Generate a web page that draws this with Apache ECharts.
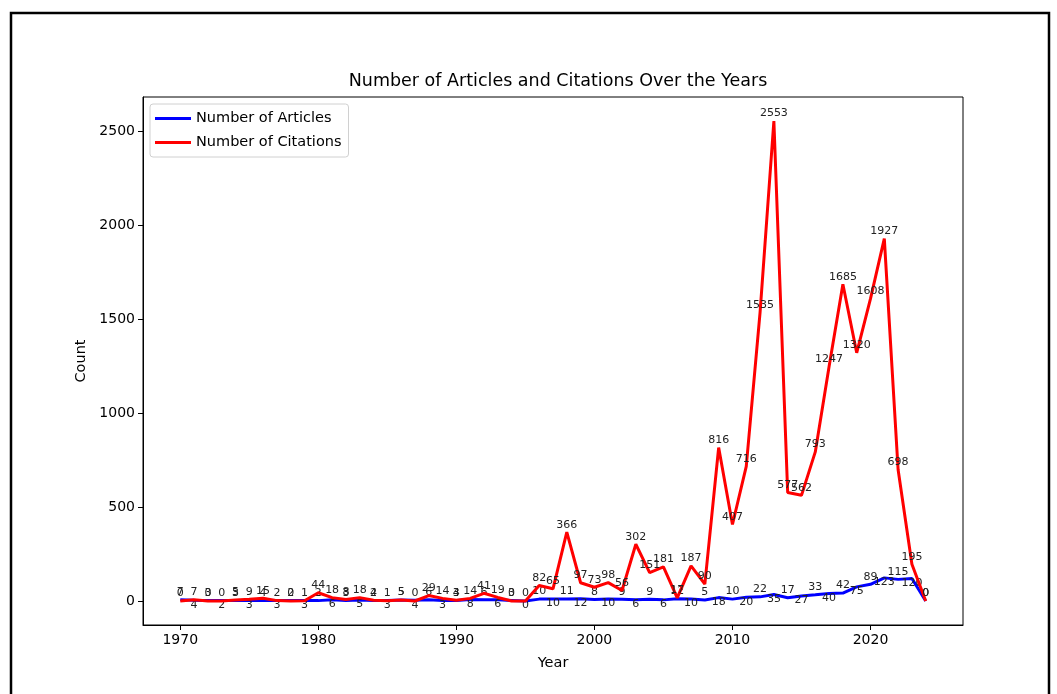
<!DOCTYPE html>
<html>
<head>
<meta charset="utf-8">
<script src="https://cdn.jsdelivr.net/npm/echarts@6/dist/echarts.min.js"></script>
<style>
  html, body { margin: 0; padding: 0; background: #fff; }
  #chart { width: 1057px; height: 694px; }
</style>
</head>
<body>
<div id="chart"></div>
<script>
// Publication years
const years = [
  1970, 1971, 1972, 1973, 1974, 1975, 1976, 1977, 1978, 1979,
  1980, 1981, 1982, 1983, 1984, 1985, 1986, 1987, 1988, 1989,
  1990, 1991, 1992, 1993, 1994, 1995, 1996, 1997, 1998, 1999,
  2000, 2001, 2002, 2003, 2004, 2005, 2006, 2007, 2008, 2009,
  2010, 2011, 2012, 2013, 2014, 2015, 2016, 2017, 2018, 2019,
  2020, 2021, 2022, 2023, 2024
];

// Articles published per year
const articles = [
  7, 4, 3, 2, 3, 3, 4, 3, 2, 3,
  2, 6, 3, 5, 2, 3, 5, 4, 6, 3,
  3, 8, 6, 6, 3, 0, 10, 10, 11, 12,
  8, 10, 9, 6, 9, 6, 12, 10, 5, 18,
  10, 20, 22, 35, 17, 27, 33, 40, 42, 75,
  89, 123, 115, 120, 0
];

// Citations received per year
const citations = [
  0, 7, 0, 0, 5, 9, 15, 2, 0, 1,
  44, 18, 8, 18, 4, 1, 5, 0, 29, 14,
  4, 14, 41, 19, 0, 0, 82, 65, 366, 97,
  73, 98, 56, 302, 151, 181, 17, 187, 90, 816,
  407, 716, 1535, 2553, 577, 562, 793, 1247, 1685, 1320,
  1608, 1927, 698, 195, 0
];

const xTicks = [1970, 1980, 1990, 2000, 2010, 2020];
const yTicks = [0, 500, 1000, 1500, 2000, 2500];

const FONT = 'DejaVu Sans';

// Axis extents padded by 5% of the data span on each side
const xSpan = years[years.length - 1] - years[0];
const xMin = years[0] - 0.05 * xSpan;
const xMax = years[years.length - 1] + 0.05 * xSpan;
const yLo = Math.min(0, ...citations, ...articles);
const yHi = Math.max(...citations, ...articles);
const yMin = yLo - 0.05 * (yHi - yLo);
const yMax = yHi + 0.05 * (yHi - yLo);

const valueLabel = { show: true, color: '#222', fontFamily: FONT, fontSize: 11, formatter: p => p.value[1] };

// Article labels alternate above / below the line
const articleData = years.map((y, i) => ({
  value: [y, articles[i]],
  label: i % 2 === 0
    ? { position: 'top', distance: 2 }
    : { position: 'bottom', distance: -1 }
}));
const citationData = years.map((y, i) => ({ value: [y, citations[i]] }));

const chart = echarts.init(document.getElementById('chart'), null, { renderer: 'canvas' });

chart.setOption({
  backgroundColor: '#fff',
  animation: false,
  title: {
    text: 'Number of Articles and Citations Over the Years',
    left: 553,
    top: 67,
    textAlign: 'center',
    textStyle: { fontFamily: FONT, fontSize: 17.5, fontWeight: 'normal', color: '#000' }
  },
  legend: {
    orient: 'vertical',
    left: 150,
    top: 104,
    padding: [7, 7, 7, 5],
    itemGap: 9,
    itemWidth: 36,
    itemHeight: 3,
    icon: 'rect',
    backgroundColor: '#fff',
    borderColor: '#d0d0d0',
    borderWidth: 1,
    borderRadius: 3,
    textStyle: { fontFamily: FONT, fontSize: 14.5, color: '#000' },
    data: ['Number of Articles', 'Number of Citations']
  },
  grid: {
    left: 143, top: 97, width: 820, height: 528,
    show: true, borderColor: '#000', borderWidth: 1, backgroundColor: 'transparent'
  },
  xAxis: {
    type: 'value',
    min: xMin,
    max: xMax,
    name: 'Year',
    nameLocation: 'middle',
    nameGap: 31,
    nameTextStyle: { fontFamily: FONT, fontSize: 14.5, color: '#000' },
    axisLine: { show: true, onZero: false, lineStyle: { color: '#000', width: 1 } },
    axisTick: { show: true, length: 5, lineStyle: { color: '#000' }, customValues: xTicks },
    axisLabel: { color: '#000', fontFamily: FONT, fontSize: 14, margin: 8, customValues: xTicks, formatter: v => String(v) },
    splitLine: { show: false }
  },
  yAxis: {
    type: 'value',
    min: yMin,
    max: yMax,
    name: 'Count',
    nameLocation: 'middle',
    nameGap: 54,
    nameRotate: 90,
    nameTextStyle: { fontFamily: FONT, fontSize: 14.5, color: '#000' },
    axisLine: { show: true, onZero: false, lineStyle: { color: '#000', width: 1 } },
    axisTick: { show: true, length: 5, lineStyle: { color: '#000' }, customValues: yTicks },
    axisLabel: { color: '#000', fontFamily: FONT, fontSize: 14, margin: 8, customValues: yTicks, formatter: v => String(v) },
    splitLine: { show: false }
  },
  series: [
    {
      name: 'Number of Articles',
      type: 'line',
      data: articleData,
      showSymbol: true,
      symbol: 'circle',
      symbolSize: 0.01,
      color: '#0000ff',
      itemStyle: { color: '#0000ff' },
      lineStyle: { color: '#0000ff', width: 3 },
      label: valueLabel,
      labelLayout: { hideOverlap: false },
      z: 2
    },
    {
      name: 'Number of Citations',
      type: 'line',
      data: citationData,
      showSymbol: true,
      symbol: 'circle',
      symbolSize: 0.01,
      color: '#ff0000',
      itemStyle: { color: '#ff0000' },
      lineStyle: { color: '#ff0000', width: 3 },
      label: Object.assign({}, valueLabel, { position: 'top', distance: 2 }),
      labelLayout: { hideOverlap: false },
      z: 3
    }
  ],
  graphic: [
    {
      type: 'rect',
      shape: { x: 11, y: 13, width: 1038, height: 700 },
      style: { fill: 'none', stroke: '#000', lineWidth: 2.5 },
      silent: true
    }
  ]
});
</script>
</body>
</html>
